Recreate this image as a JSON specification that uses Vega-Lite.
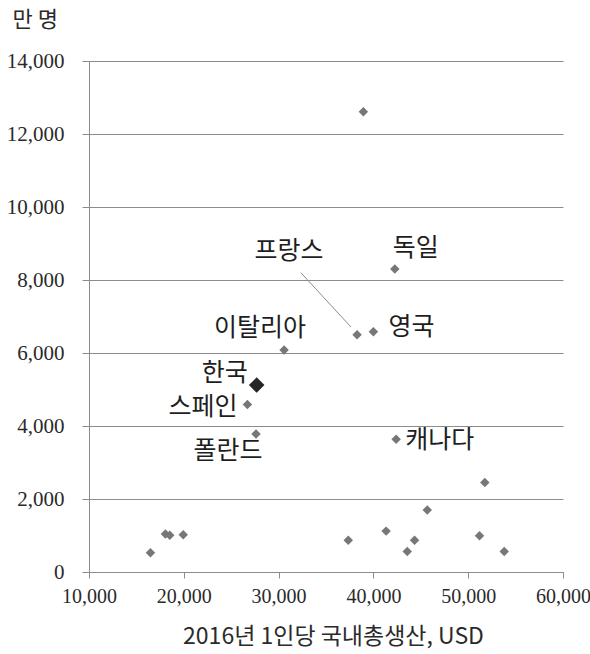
{
  "$schema": "https://vega.github.io/schema/vega-lite/v6.json",
  "width": 474,
  "height": 511,
  "autosize": {"type": "none"},
  "padding": {"left": 89, "top": 61, "right": 27, "bottom": 82},
  "background": "white",
  "config": {
    "view": {"stroke": null},
    "font": "Noto Sans CJK KR",
    "text": {"font": "Noto Sans CJK KR", "fontSize": 25, "color": "#1e1e1e", "baseline": "middle"}
  },
  "datasets": {
    "countries": [
      {"label": "", "gdp": 38940, "pop": 12610},
      {"label": "독일", "gdp": 42260, "pop": 8300},
      {"label": "영국", "gdp": 40000, "pop": 6580},
      {"label": "프랑스", "gdp": 38280, "pop": 6500},
      {"label": "이탈리아", "gdp": 30580, "pop": 6080},
      {"label": "한국", "gdp": 27690, "pop": 5120},
      {"label": "스페인", "gdp": 26710, "pop": 4590},
      {"label": "폴란드", "gdp": 27620, "pop": 3780},
      {"label": "캐나다", "gdp": 42400, "pop": 3640},
      {"label": "", "gdp": 16480, "pop": 530},
      {"label": "", "gdp": 18060, "pop": 1040},
      {"label": "", "gdp": 18520, "pop": 1010},
      {"label": "", "gdp": 19940, "pop": 1020},
      {"label": "", "gdp": 51750, "pop": 2450},
      {"label": "", "gdp": 45680, "pop": 1700},
      {"label": "", "gdp": 37350, "pop": 870},
      {"label": "", "gdp": 41340, "pop": 1120},
      {"label": "", "gdp": 44340, "pop": 870},
      {"label": "", "gdp": 43570, "pop": 560},
      {"label": "", "gdp": 51190, "pop": 990},
      {"label": "", "gdp": 53800, "pop": 560}
    ],
    "leader": [
      {"gdp": 32350, "pop": 8200, "gdp2": 37640, "pop2": 6710}
    ]
  },
  "layer": [
    {
      "data": {"name": "countries"},
      "mark": {"type": "point", "shape": "diamond", "filled": true, "opacity": 1, "strokeWidth": 0},
      "encoding": {
        "x": {
          "field": "gdp",
          "type": "quantitative",
          "scale": {"domain": [10000, 60000], "nice": false, "zero": false},
          "axis": {
            "values": [10000, 20000, 30000, 40000, 50000, 60000],
            "format": ",d",
            "grid": false,
            "domainColor": "#8c8c8c",
            "tickColor": "#8c8c8c",
            "tickSize": 6,
            "labelFont": "Liberation Sans Narrow",
            "labelFontSize": 20,
            "labelColor": "#2a2a2a",
            "labelPadding": 8,
            "labelFlush": false,
            "labelOverlap": false,
            "labelBound": false,
            "title": "2016년 1인당 국내총생산, USD",
            "titleFont": "Noto Sans CJK KR",
            "titleFontSize": 23,
            "titleFontWeight": "normal",
            "titleColor": "#2a2a2a",
            "titleAlign": "center",
            "titleX": 244,
            "titlePadding": 19
          }
        },
        "y": {
          "field": "pop",
          "type": "quantitative",
          "scale": {"domain": [0, 14000], "nice": false},
          "axis": {
            "values": [0, 2000, 4000, 6000, 8000, 10000, 12000, 14000],
            "format": ",d",
            "grid": true,
            "gridColor": "#8c8c8c",
            "gridWidth": 1,
            "domainColor": "#8c8c8c",
            "tickColor": "#8c8c8c",
            "tickSize": 7,
            "labelFont": "Liberation Sans Narrow",
            "labelFontSize": 21,
            "labelColor": "#2a2a2a",
            "labelPadding": 18,
            "title": "만 명",
            "titleAngle": 0,
            "titleAlign": "left",
            "titleBaseline": "middle",
            "titleX": -77,
            "titleY": -42,
            "titleFont": "Noto Sans CJK KR",
            "titleFontSize": 22,
            "titleFontWeight": "normal",
            "titleColor": "#2a2a2a"
          }
        },
        "color": {
          "condition": {"test": "datum.label === '한국'", "value": "#262626"},
          "value": "#777777"
        },
        "size": {
          "condition": {"test": "datum.label === '한국'", "value": 240},
          "value": 90
        }
      }
    },
    {
      "data": {"name": "leader"},
      "mark": {"type": "rule", "color": "#8c8c8c", "strokeWidth": 1},
      "encoding": {
        "x": {"field": "gdp", "type": "quantitative"},
        "y": {"field": "pop", "type": "quantitative"},
        "x2": {"field": "gdp2"},
        "y2": {"field": "pop2"}
      }
    },
    {
      "data": {"name": "countries"},
      "transform": [{"filter": "datum.label === '독일'"}],
      "mark": {"type": "text", "align": "left", "dx": -2, "dy": -21},
      "encoding": {
        "x": {"field": "gdp", "type": "quantitative"},
        "y": {"field": "pop", "type": "quantitative"},
        "text": {"field": "label"}
      }
    },
    {
      "data": {"name": "countries"},
      "transform": [{"filter": "datum.label === '영국'"}],
      "mark": {"type": "text", "align": "left", "dx": 15, "dy": -5},
      "encoding": {
        "x": {"field": "gdp", "type": "quantitative"},
        "y": {"field": "pop", "type": "quantitative"},
        "text": {"field": "label"}
      }
    },
    {
      "data": {"name": "countries"},
      "transform": [{"filter": "datum.label === '캐나다'"}],
      "mark": {"type": "text", "align": "left", "dx": 9, "dy": 1},
      "encoding": {
        "x": {"field": "gdp", "type": "quantitative"},
        "y": {"field": "pop", "type": "quantitative"},
        "text": {"field": "label"}
      }
    },
    {
      "data": {"name": "countries"},
      "transform": [{"filter": "datum.label === '프랑스'"}],
      "mark": {"type": "text", "align": "center", "dx": -68, "dy": -84},
      "encoding": {
        "x": {"field": "gdp", "type": "quantitative"},
        "y": {"field": "pop", "type": "quantitative"},
        "text": {"field": "label"}
      }
    },
    {
      "data": {"name": "countries"},
      "transform": [{"filter": "datum.label === '이탈리아'"}],
      "mark": {"type": "text", "align": "center", "dx": -24, "dy": -22},
      "encoding": {
        "x": {"field": "gdp", "type": "quantitative"},
        "y": {"field": "pop", "type": "quantitative"},
        "text": {"field": "label"}
      }
    },
    {
      "data": {"name": "countries"},
      "transform": [{"filter": "datum.label === '한국'"}],
      "mark": {"type": "text", "align": "right", "dx": -9, "dy": -12},
      "encoding": {
        "x": {"field": "gdp", "type": "quantitative"},
        "y": {"field": "pop", "type": "quantitative"},
        "text": {"field": "label"}
      }
    },
    {
      "data": {"name": "countries"},
      "transform": [{"filter": "datum.label === '스페인'"}],
      "mark": {"type": "text", "align": "right", "dx": -10, "dy": 3},
      "encoding": {
        "x": {"field": "gdp", "type": "quantitative"},
        "y": {"field": "pop", "type": "quantitative"},
        "text": {"field": "label"}
      }
    },
    {
      "data": {"name": "countries"},
      "transform": [{"filter": "datum.label === '폴란드'"}],
      "mark": {"type": "text", "align": "center", "dx": -28, "dy": 17},
      "encoding": {
        "x": {"field": "gdp", "type": "quantitative"},
        "y": {"field": "pop", "type": "quantitative"},
        "text": {"field": "label"}
      }
    }
  ]
}
